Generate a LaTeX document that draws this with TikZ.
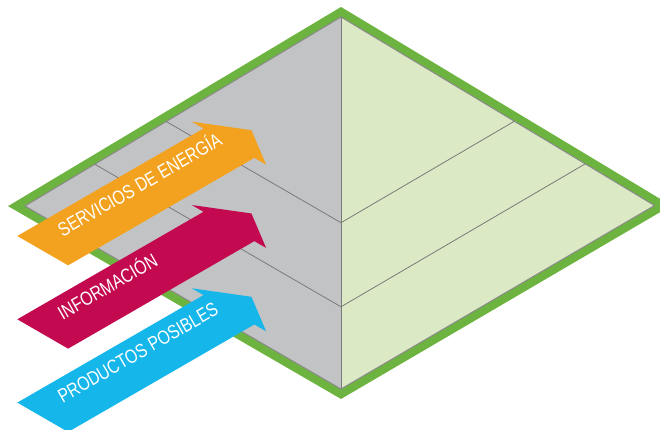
\documentclass[tikz,border=0pt]{standalone}
\usepackage{fontspec}
\newfontfamily\arrowfont[FakeStretch=0.8]{Liberation Sans}
\usetikzlibrary{calc}
\definecolor{bordergreen}{HTML}{6DB33F}
\definecolor{facegrey}{HTML}{C2C3C5}
\definecolor{facegreen}{HTML}{DBE9C5}
\definecolor{edgegrey}{HTML}{8A8A8A}
\definecolor{linegrey}{HTML}{7A7A7A}
\definecolor{arrorange}{HTML}{F3A21F}
\definecolor{arrmagenta}{HTML}{C30A50}
\definecolor{arrcyan}{HTML}{15B6EA}
\tikzset{
  border/.style={draw=bordergreen, line width=17.2pt, line join=miter},
  inneredge/.style={draw=edgegrey, line width=1pt},
  divline/.style={draw=linegrey, line width=0.8pt},
  arrowtext/.style={text=white, inner sep=0pt, rotate=30, font=\arrowfont\fontsize{19.5}{19.5}\selectfont}
}
\newcommand\flatarrow[4]{%
  \begin{scope}[shift={(17.3,#3)}, x={(0.866pt,0.5pt)}, y={(0.866pt,-0.5pt)}]
    \fill[#2] (0,0) -- (215,0) -- (215,-13.6) -- (241,29.35) -- (215,72.3) -- (215,58.7) -- (0,58.7) -- cycle;
    \node[arrowtext, anchor=base west] (#1) at (25,27.5) {#4};
  \end{scope}}
\begin{document}
\begin{tikzpicture}[x=1pt,y=-1pt]
\useasboundingbox (0,0) rectangle (660,430);
\coordinate (T) at (341,17);
\coordinate (R) at (654.5,205.5);
\coordinate (B) at (341,389);
\coordinate (L) at (25,206);
\path[border] (T) -- (R) -- (B) -- (L) -- cycle;
\fill[facegrey] (T) -- (B) -- (L) -- cycle;
\fill[facegreen] (T) -- (R) -- (B) -- cycle;
\path[inneredge] (T) -- (R) -- (B) -- (L) -- cycle;
\path[divline] (T) -- (B);
\coordinate (C1) at ($(T)!0.553!(B)$);
\coordinate (C2) at ($(T)!0.779!(B)$);
\coordinate (L1) at ($(T)!0.553!(L)$);
\coordinate (L2) at ($(T)!0.779!(L)$);
\coordinate (R1) at ($(T)!0.553!(R)$);
\coordinate (R2) at ($(T)!0.779!(R)$);
\path[divline] (L1) -- (C1) -- (R1);
\path[divline] (L2) -- (C2) -- (R2);
\flatarrow{energia}{arrorange}{236}{SERVICIOS DE ENERGÍA}
\flatarrow{informacion}{arrmagenta}{319.3}{INFORMACIÓN}
\flatarrow{productos}{arrcyan}{402.6}{PRODUCTOS POSIBLES}
\end{tikzpicture}
\end{document}
